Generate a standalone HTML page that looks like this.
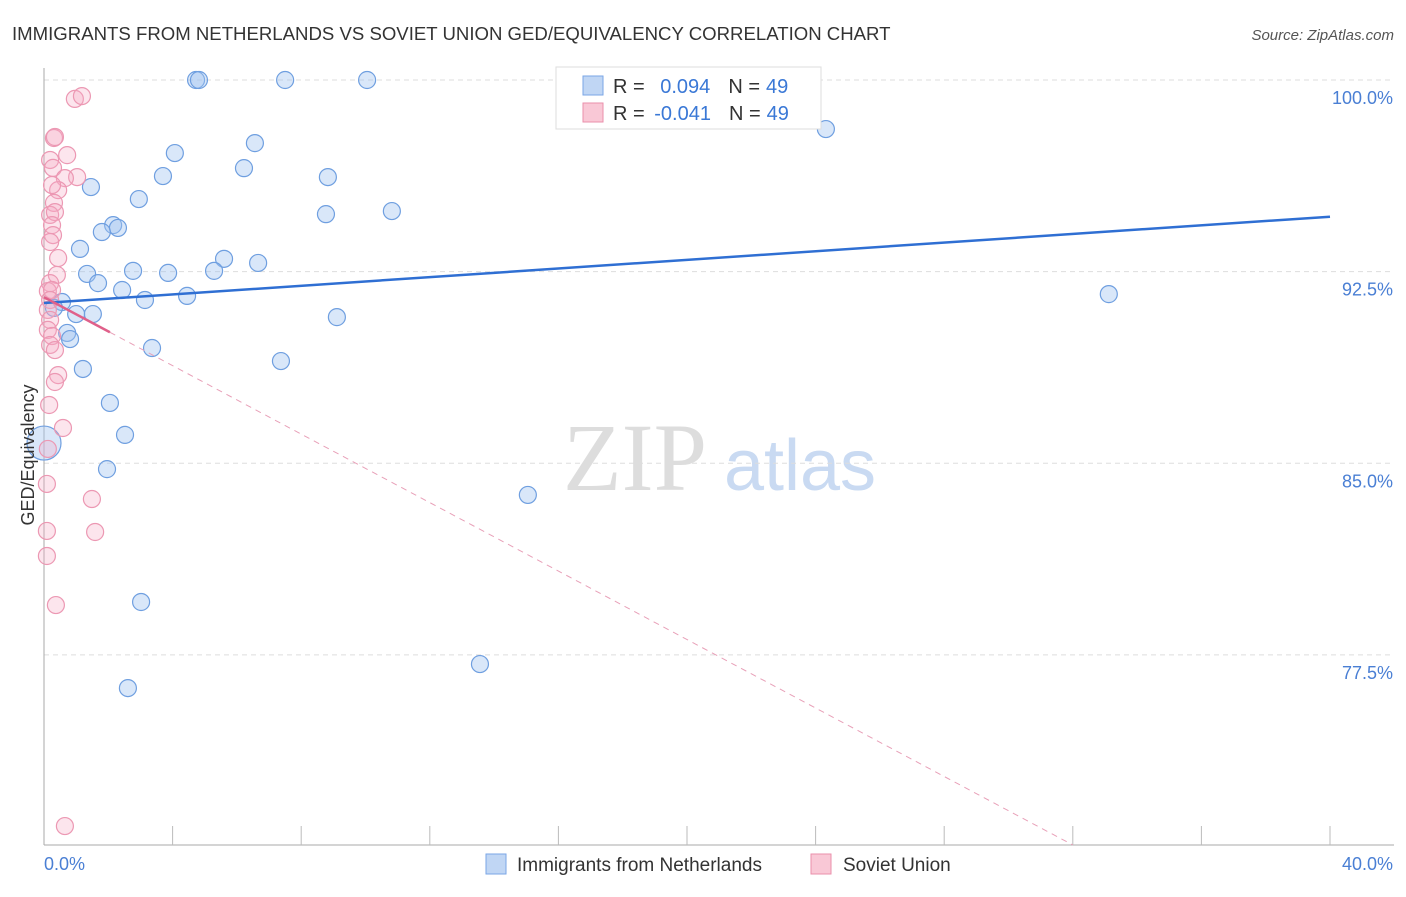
<!DOCTYPE html>
<html><head><meta charset="utf-8"><style>
body{margin:0;background:#fff;font-family:"Liberation Sans",sans-serif;}
</style></head><body>
<svg width="1406" height="892" xmlns="http://www.w3.org/2000/svg" id="chart">
<text x="12" y="40" font-size="18.6" fill="#333">IMMIGRANTS FROM NETHERLANDS VS SOVIET UNION GED/EQUIVALENCY CORRELATION CHART</text>
<text x="1394" y="40" font-size="15" fill="#555" font-style="italic" text-anchor="end">Source: ZipAtlas.com</text>
<g><text x="635" y="490" font-size="96" fill="#ddd" font-family="Liberation Serif" text-anchor="middle">ZIP</text><text x="800" y="490" font-size="72" fill="#c9daf2" text-anchor="middle">atlas</text></g>
<g id="grid"></g><g id="axes"></g><g id="pts"></g><g id="trend"></g>
<text transform="translate(34,455) rotate(-90)" font-size="18" fill="#333" text-anchor="middle">GED/Equivalency</text>
<g>
<rect x="556" y="67" width="265" height="62" fill="#fff" stroke="#ddd"/>
<rect x="583" y="76" width="20" height="19" fill="#c0d6f4" stroke="#7aa6e6"/>
<text x="613" y="93" font-size="20" fill="#333">R = <tspan fill="#3a78d6" dx="10">0.094</tspan><tspan dx="18">N =</tspan><tspan fill="#3a78d6" dx="6">49</tspan></text>
<rect x="583" y="103" width="20" height="19" fill="#f9c8d6" stroke="#ea8fab"/>
<text x="613" y="120" font-size="20" fill="#333">R = <tspan fill="#3a78d6" dx="4">-0.041</tspan><tspan dx="18">N =</tspan><tspan fill="#3a78d6" dx="6">49</tspan></text>
</g>
<g>
<rect x="486" y="854" width="20" height="20" fill="#c0d6f4" stroke="#7aa6e6"/>
<text x="517" y="871" font-size="19" fill="#333">Immigrants from Netherlands</text>
<rect x="811" y="854" width="20" height="20" fill="#f9c8d6" stroke="#ea8fab"/>
<text x="843" y="871" font-size="19" fill="#333">Soviet Union</text>
</g>
</svg>
<script>
const yTicks=[100,92.5,85,77.5];
const yTickLabels=["100.0%","92.5%","85.0%","77.5%"];
const xTickLabels=["0.0%","40.0%"];
const blueX=[4.73,4.82,7.50,10.05,24.32,6.56,4.07,6.22,3.70,8.83,1.46,2.95,8.77,10.82,2.15,2.30,1.80,1.12,5.60,6.66,2.77,3.86,5.29,1.34,1.68,2.43,4.45,3.14,33.12,0.56,0.31,1.00,1.52,9.11,0.72,0.81,3.36,7.37,1.21,2.05,2.52,1.96,0,15.05,3.02,13.56,2.61];
const blueY=[100,100,100,100,98.08,97.53,97.14,96.55,96.24,96.20,95.81,95.34,94.75,94.87,94.32,94.21,94.05,93.39,93.00,92.84,92.53,92.45,92.53,92.41,92.05,91.78,91.55,91.39,91.62,91.31,91.08,90.84,90.84,90.72,90.10,89.86,89.51,89.00,88.69,87.36,86.11,84.77,85.79,83.76,79.57,77.14,76.20];
const pinkX=[0.96,1.18,0.31,0.34,0.19,0.72,0.28,1.03,0.65,0.44,0.25,0.31,0.19,0.34,0.25,0.28,0.19,0.44,0.40,0.19,0.12,0.25,0.19,0.12,0.19,0.12,0.25,0.19,0.34,0.44,0.34,0.16,0.59,0.12,0.09,1.49,0.09,1.59,0.09,0.37,0.65];
const pinkY=[99.26,99.37,97.73,97.77,96.87,97.06,96.56,96.20,96.16,95.69,95.89,95.19,94.72,94.83,94.32,93.93,93.66,93.03,92.37,92.05,91.74,91.78,91.39,91.00,90.61,90.22,89.98,89.63,89.43,88.45,88.18,87.28,86.38,85.56,84.19,83.60,82.35,82.31,81.37,79.45,70.80];
const blueTrend=[91.27,94.65];
const pinkTrend=[91.5,-0.67];
const X=v=>44+v/40*1286, Y=v=>80+(100-v)*25.55;
const NS="http://www.w3.org/2000/svg";
function mk(p,t,a){const e=document.createElementNS(NS,t);for(const k in a)e.setAttribute(k,a[k]);document.getElementById(p).appendChild(e);return e;}
yTicks.forEach((t,i)=>{
 const g=mk('grid','line',{x1:44,x2:1394,y1:Y(t),y2:Y(t),stroke:'#ddd','stroke-dasharray':'5,4'});
 
 
 const l=mk('grid','text',{x:1393,y:Y(t)+24,'font-size':18,fill:'#4a7fd4','text-anchor':'end'});l.textContent=yTickLabels[i];
 
 
});
mk('axes','line',{x1:44,x2:44,y1:68,y2:845,stroke:'#aaa'});
mk('axes','line',{x1:44,x2:1394,y1:845,y2:845,stroke:'#aaa'});
for(let i=1;i<=10;i++){const e=mk('axes','line',{x1:X(i*4),x2:X(i*4),y1:826,y2:845,stroke:'#bbb'});
 
 }
[[0,44,'start'],[40,1393,'end']].forEach((d,i)=>{const t=mk('axes','text',{x:d[1],y:870,'font-size':18,fill:'#4a7fd4','text-anchor':d[2]});t.textContent=xTickLabels[i];
 
 });
blueX.forEach((x,i)=>{const big=(x===0);const c=mk('pts','circle',{cx:X(x),cy:Y(blueY[i]),r:big?17:8.5,fill:'rgba(160,196,240,0.4)',stroke:'#6f9fe0','stroke-width':1.2});
 
 });
pinkX.forEach((x,i)=>{const c=mk('pts','circle',{cx:X(x),cy:Y(pinkY[i]),r:8.5,fill:'rgba(245,170,195,0.3)',stroke:'#ec98b3','stroke-width':1.2});
 
 });
const bt=mk('trend','line',{x1:X(0),y1:Y(blueTrend[0]),x2:X(40),y2:Y(blueTrend[1]),stroke:'#2f6fd3','stroke-width':2.5});


const pf=x=>pinkTrend[0]+pinkTrend[1]*x;
const ps=mk('trend','line',{x1:X(0),y1:Y(pf(0)),x2:X(2.05),y2:Y(pf(2.05)),stroke:'#e0608a','stroke-width':2.5});


const xe=(pf(0)-70.06)/(-pinkTrend[1]);
const pd=mk('trend','line',{x1:X(2.05),y1:Y(pf(2.05)),x2:X(xe),y2:Y(pf(xe)),stroke:'#e8a0b8','stroke-width':1,'stroke-dasharray':'6,5'});


</script>
</body></html>
